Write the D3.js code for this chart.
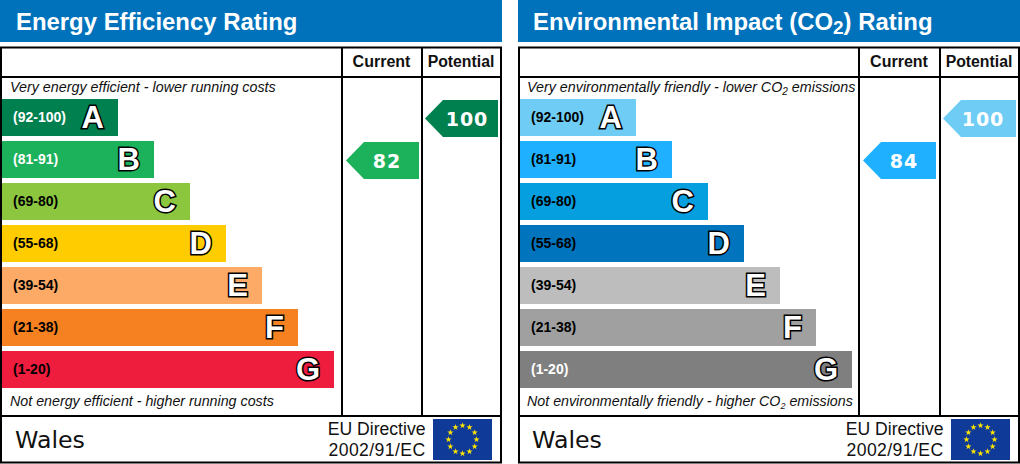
<!DOCTYPE html>
<html><head><meta charset="utf-8">
<script src="https://cdn.jsdelivr.net/npm/d3@7"></script>
<style>html,body{margin:0;padding:0;background:#fff}svg{display:block}text{font-family:"Liberation Sans",Arial,sans-serif}</style>
</head><body><svg id="c" width="1020" height="464"></svg>
<script>
const letters = ["A","B","C","D","E","F","G"];
const ranges = ["(92-100)","(81-91)","(69-80)","(55-68)","(39-54)","(21-38)","(1-20)"];
const barRanks = [1,2,3,4,5,6,7];
const energyColors = ["#00804f","#1cb15b","#8cc63f","#ffcc00","#fcaa65","#f68121","#ee1c3d"];
const envColors = ["#6fcdf5","#1fb1ff","#059fdf","#0075bd","#bdbdbd","#a0a0a0","#7f7f7f"];
const energyRangeFill = ["#fff","#fff","#000","#000","#000","#000","#000"];
const envRangeFill = ["#000","#000","#000","#000","#000","#000","#fff"];
const energyScores = {current:82, potential:100};
const envScores = {current:84, potential:100};
const bandMin = [92,81,69,55,39,21,1];
const columnLabels = ["Current","Potential"];

const svg = d3.select("#c");
const yBand = d3.scaleBand().domain(letters).range([99,388]).paddingInner(5/42);
const xBar = d3.scaleLinear().domain([1,7]).range([116,332]);
const band = s => letters[bandMin.findIndex(m => s >= m)];

function co2(sel, parts){
  let shift = 0;
  parts.forEach(p=>{
    const t = sel.append("tspan").text(p.t);
    if(p.sub){ t.attr("dy",p.dy).attr("font-size",p.sub); shift = p.dy; }
    else if(shift){ t.attr("dy",-shift); shift = 0; }
  });
}

function panel(o){
  const g = svg.append("g").attr("transform",`translate(${o.x},0)`);
  g.append("rect").attr("x",0).attr("y",0).attr("width",o.w).attr("height",42).attr("fill","#0072bc");
  const title = g.append("text").attr("x",16+o.dx).attr("y",30).attr("fill","#fff").attr("font-weight",700).attr("font-size",23.9);
  co2(title,o.title);
  const lines = g.append("g").attr("stroke","#000").attr("stroke-width",2).attr("fill","none");
  lines.append("rect").attr("x",1).attr("y",47.5).attr("width",o.w-2).attr("height",415);
  lines.append("line").attr("x1",1).attr("x2",o.w-1).attr("y1",77).attr("y2",77);
  lines.append("line").attr("x1",1).attr("x2",o.w-1).attr("y1",416).attr("y2",416);
  o.cols.forEach(cx=>lines.append("line").attr("x1",cx).attr("x2",cx).attr("y1",47).attr("y2",416));

  [[o.cols[0],o.cols[1]],[o.cols[1],o.w-1]].forEach((c,i)=>{
    g.append("text").attr("x",(c[0]+c[1])/2-0.5).attr("y",67).attr("text-anchor","middle")
      .attr("font-size",i?15.8:16).attr("font-weight",700).attr("fill","#111").text(columnLabels[i]);
  });

  const top = g.append("text").attr("x",10+o.dx).attr("y",92).attr("font-size",14.3).attr("font-style","italic").attr("fill","#111");
  co2(top,o.top);
  const bot = g.append("text").attr("x",10+o.dx).attr("y",406).attr("font-size",14.25).attr("font-style","italic").attr("fill","#111");
  co2(bot,o.bottom);

  const rows = g.selectAll(".row").data(letters).join("g").attr("class","row");
  rows.append("rect").attr("x",2).attr("y",d=>yBand(d)).attr("height",yBand.bandwidth())
    .attr("width",(d,i)=>xBar(barRanks[i])).attr("fill",(d,i)=>o.colors[i]);
  rows.append("text").attr("x",13).attr("y",d=>yBand(d)+yBand.bandwidth()/2+4).attr("font-size",14).attr("font-weight",700)
    .attr("fill",(d,i)=>o.rangeFill[i]).text((d,i)=>ranges[i]);
  rows.append("text").attr("x",(d,i)=>xBar(barRanks[i])+2-14).attr("y",d=>yBand(d)+yBand.bandwidth()/2+10)
    .attr("text-anchor","end").attr("font-size",31).attr("font-weight",700)
    .attr("fill","#fff").attr("stroke","#000").attr("stroke-width",3).attr("paint-order","stroke")
    .text(d=>d);

  [["current",o.cols[0]+4],["potential",o.cols[1]+3]].forEach(([k,x0])=>{
    const s = o.scores[k], b = band(s), y = yBand(b)+1, h = yBand.bandwidth(), w = 73;
    const colr = o.colors[letters.indexOf(b)];
    const path = d3.path();
    path.moveTo(x0,y+h/2); path.lineTo(x0+18,y); path.lineTo(x0+w,y); path.lineTo(x0+w,y+h); path.lineTo(x0+18,y+h); path.closePath();
    g.append("path").attr("d",path.toString()).attr("fill",colr);
    g.append("text").attr("x",x0+41+(k==="potential"?o.potDx:0)).attr("y",y+h/2+7).attr("text-anchor","middle")
      .style("font-family","'DejaVu Sans'").attr("font-size",19).attr("font-weight",700)
      .attr("letter-spacing",1).attr("fill","#fff").text(s);
  });

  g.append("text").attr("x",15+o.dx).attr("y",448).attr("font-size",23.7).style("font-family","'DejaVu Sans'").attr("fill","#111").text("Wales");
  g.append("text").attr("x",425.5).attr("y",435).attr("text-anchor","end").attr("font-size",17.6).attr("fill","#111").text("EU Directive");
  g.append("text").attr("x",425.5).attr("y",456).attr("text-anchor","end").attr("font-size",17.6).attr("letter-spacing",0.4).attr("fill","#111").text("2002/91/EC");
  const f = g.append("g").attr("transform","translate(433,419)");
  f.append("rect").attr("width",59).attr("height",41).attr("fill","#0f3a97");
  const star = d3.symbol().type(d3.symbolStar).size(12)();
  d3.range(12).forEach(i=>{
    const a = i*Math.PI/6;
    f.append("path").attr("d",star).attr("fill","#ffe600")
      .attr("transform",`translate(${29.5+14*Math.sin(a)},${20.5-14*Math.cos(a)})`);
  });
}

panel({x:0,w:502,dx:0,potDx:1,cols:[342,422],colors:energyColors,rangeFill:energyRangeFill,scores:energyScores,
  title:[{t:"Energy Efficiency Rating"}],
  top:[{t:"Very energy efficient - lower running costs"}],
  bottom:[{t:"Not energy efficient - higher running costs"}]});
panel({x:518,w:502,dx:-1,potDx:-1,cols:[341,422],colors:envColors,rangeFill:envRangeFill,scores:envScores,
  title:[{t:"Environmental Impact (CO"},{t:"2",sub:19,dy:4},{t:") Rating"}],
  top:[{t:"Very environmentally friendly - lower CO"},{t:"2",sub:10,dy:3},{t:" emissions"}],
  bottom:[{t:"Not environmentally friendly - higher CO"},{t:"2",sub:9,dy:3},{t:" emissions"}]});
</script></body></html>
